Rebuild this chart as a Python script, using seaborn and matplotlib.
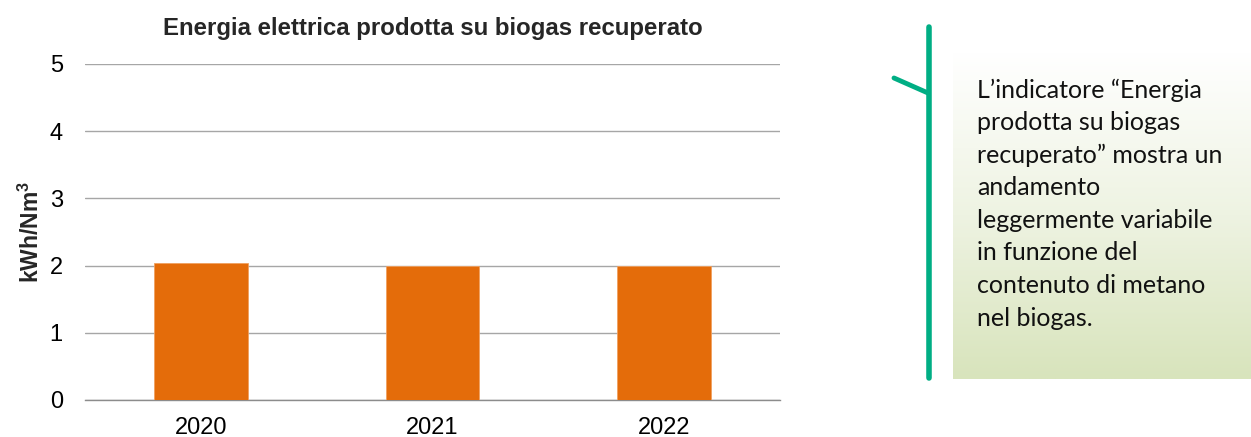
import numpy as np
import pandas as pd
import matplotlib
matplotlib.use("Agg")
import matplotlib.pyplot as plt
import seaborn as sns
from matplotlib.colors import LinearSegmentedColormap
from matplotlib.lines import Line2D

years = ["2020", "2021", "2022"]
values = [2.04, 2.00, 1.99]
title = "Energia elettrica prodotta su biogas recuperato"
ylabel = r"kWh/Nm$^\mathbf{3}$"
note_lines = [
    "L’indicatore “Energia",
    "prodotta su biogas",
    "recuperato” mostra un",
    "andamento",
    "leggermente variabile",
    "in funzione del",
    "contenuto di metano",
    "nel biogas.",
]

sns.set_theme(style="white")
plt.rcParams["font.family"] = ["Liberation Sans", "DejaVu Sans"]
plt.rcParams["mathtext.fontset"] = "custom"
plt.rcParams["mathtext.bf"] = "Liberation Sans:bold"
plt.rcParams["mathtext.rm"] = "Liberation Sans"

W, H = 1251, 437
fig = plt.figure(figsize=(W / 100, H / 100), dpi=100)

def fx(px):
    return px / W

def fy(py):
    return 1 - py / H

ax = fig.add_axes([fx(85), fy(400), fx(780) - fx(85), fy(64) - fy(400)])
df = pd.DataFrame({"year": years, "value": values})
sns.barplot(data=df, x="year", y="value", color="#E46C0A", saturation=1,
            width=0.405, ax=ax, edgecolor="#F0A060", linewidth=0.6, zorder=3)
ax.set_ylim(0, 5)
ax.set_xlim(-0.5, 2.5)
ax.set_yticks(range(0, 6))
ax.yaxis.grid(True, color="#A6A6A6", linewidth=1.0, zorder=0)
ax.set_axisbelow(True)
for s in ["top", "right", "left"]:
    ax.spines[s].set_visible(False)
ax.spines["bottom"].set_color("#8C8C8C")
ax.spines["bottom"].set_linewidth(1.0)
ax.tick_params(axis="y", length=0, labelsize=17, pad=16, colors="#000000")
ax.tick_params(axis="x", length=0, labelsize=17, pad=12, colors="#000000")
ax.set_xticks([-0.5, 0.5, 1.5, 2.5], minor=True)
ax.tick_params(axis="x", which="minor", length=6, color="#8C8C8C", width=1.0)
ax.set_xlabel("")
ax.set_ylabel(ylabel, fontsize=16.5, fontweight="bold", labelpad=4)
ax.set_title(title, fontsize=17.3, fontweight="bold", pad=21)

bax = fig.add_axes([fx(953), fy(379), fx(1251) - fx(953), fy(52) - fy(379)])
cmap = LinearSegmentedColormap.from_list("g", ["#FFFFFF", "#EEF3E2", "#D8E4BC"])
grad = np.linspace(0, 1, 256).reshape(-1, 1)
bax.imshow(grad, aspect="auto", cmap=cmap, extent=[0, 1, 0, 1], origin="upper")
bax.set_axis_off()

fig.add_artist(Line2D([fx(929), fx(929)], [fy(27), fy(378)],
                      color="#00AE84", linewidth=4.0))
fig.add_artist(Line2D([fx(894), fx(928)], [fy(78), fy(93)],
                      color="#00AE84", linewidth=3.5))

y0, dy = 90, 32.6
for i, line in enumerate(note_lines):
    fig.text(fx(977), fy(y0 + i * dy), line, fontsize=18,
             family=["Lato", "DejaVu Sans"], va="center", ha="left",
             color="#111111")

fig.savefig("out.png", dpi=100)
